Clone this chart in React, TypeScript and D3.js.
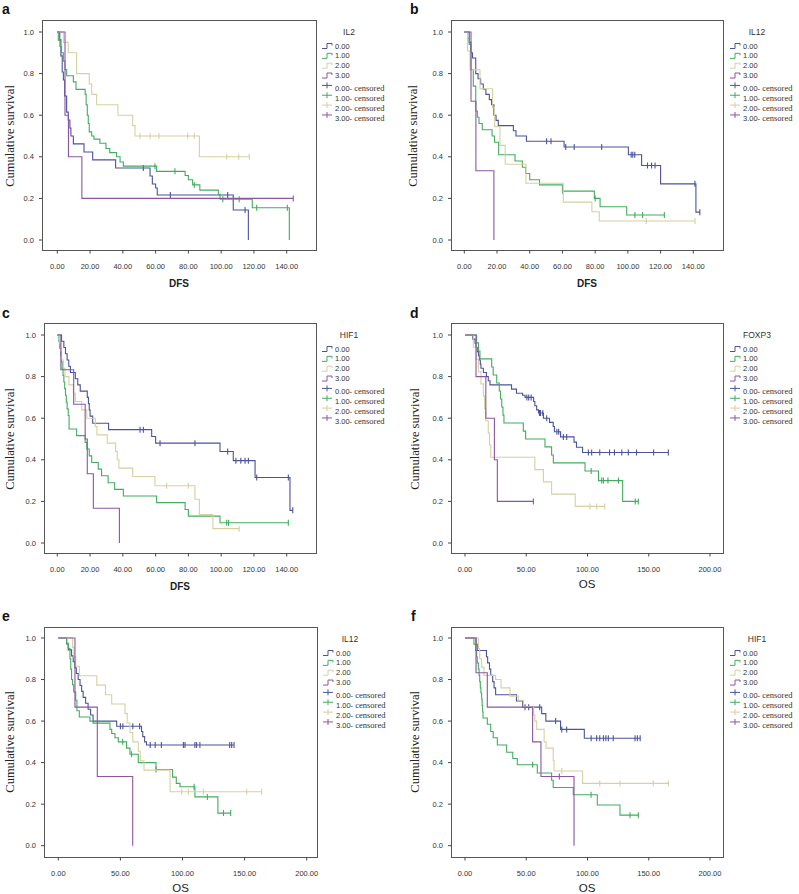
import React from 'react';
import * as d3 from 'd3';

type Step = [number, number];

const groupLabels = ['0.00', '1.00', '2.00', '3.00'];
const groupColors = ['#4b539c', '#42ad5e', '#d6d0a2', '#8c56a0'];
const yTicks = [0, 0.2, 0.4, 0.6, 0.8, 1.0];
const dfsTicks = [0, 20, 40, 60, 80, 100, 120, 140];
const osTicks = [0, 50, 100, 150, 200];
const panelLetters = ['a', 'b', 'c', 'd', 'e', 'f'];
const panelVars = ['IL2', 'IL12', 'HIF1', 'FOXP3', 'IL12', 'HIF1'];
const panelOutcomes = ['DFS', 'DFS', 'DFS', 'OS', 'OS', 'OS'];

// ---- Panel a (IL2, DFS)
const a0Steps: Step[] = [[1.5, 0.962], [2.2, 0.885], [3, 0.808], [3.7, 0.769], [4.5, 0.692], [5.7, 0.615], [6.7, 0.577], [7.7, 0.538], [8.3, 0.5], [9.8, 0.462], [16.3, 0.423], [21.6, 0.385], [35.6, 0.346], [56.6, 0.308], [58, 0.269], [60, 0.25], [61, 0.216], [107.4, 0.144], [116.6, 0]];
const a0Cens = [52.5, 69, 104, 114.6];
const a1Steps: Step[] = [[0.6, 0.96], [1.6, 0.93], [2.6, 0.9], [3.7, 0.86], [4.7, 0.82], [5.7, 0.79], [9.8, 0.76], [11.4, 0.724], [17, 0.7], [17.6, 0.65], [18.3, 0.6], [18.9, 0.56], [19.5, 0.52], [21, 0.5], [22.4, 0.485], [26, 0.465], [29.7, 0.44], [32, 0.42], [36.2, 0.4], [38.3, 0.375], [40.3, 0.355], [60.6, 0.33], [78, 0.31], [80, 0.29], [82.6, 0.265], [87, 0.24], [98.3, 0.22], [99.3, 0.196], [119, 0.155], [141.6, 0]];
const a1Cens = [59.6, 71.8, 83.6, 101, 107.4, 111, 121.7, 140.4];
const a2Steps: Step[] = [[3.7, 0.95], [6.7, 0.9], [11.8, 0.8], [19.5, 0.75], [21, 0.7], [24, 0.65], [37, 0.6], [46, 0.55], [47.4, 0.5], [86.7, 0.4]];
const a2Cens = [50.5, 56.6, 62, 79.6, 83.6, 103.4, 110.7, 117.2];
const a3Steps: Step[] = [[4.7, 0.6], [6.8, 0.4], [15, 0.2]];
const a3Cens = [144];

// ---- Panel b (IL12, DFS)
const b0Steps: Step[] = [[3, 0.95], [4, 0.9], [5, 0.875], [7, 0.8], [8.4, 0.775], [10, 0.75], [11.6, 0.725], [13.2, 0.7], [15.3, 0.675], [16.7, 0.65], [18.1, 0.6], [19.4, 0.575], [20.8, 0.55], [30, 0.525], [31.6, 0.5], [38, 0.475], [61, 0.447], [100.3, 0.41], [108.4, 0.358], [120, 0.27], [141.6, 0.134]];
const b0Cens = [50.3, 53, 62, 67.2, 84, 102, 103, 104.2, 112, 114.5, 116.6, 141, 144];
const b1Steps: Step[] = [[2, 0.97], [3, 0.94], [4, 0.82], [5.5, 0.74], [7, 0.62], [8, 0.59], [9, 0.56], [11, 0.53], [17, 0.5], [18.5, 0.47], [21, 0.41], [31, 0.38], [35.5, 0.35], [37.5, 0.32], [40, 0.29], [46, 0.265], [60, 0.235], [79.5, 0.2], [83, 0.16], [99.3, 0.12]];
const b1Cens = [60.1, 80, 104.3, 109, 122.3];
const b2Steps: Step[] = [[2, 0.909], [3.5, 0.818], [9.6, 0.727], [17.3, 0.636], [18.5, 0.545], [21.8, 0.455], [25, 0.364], [37.7, 0.273], [60.5, 0.182], [78, 0.136], [82.5, 0.091]];
const b2Cens = [111.2, 141];
const b3Steps: Step[] = [[4.1, 0.667], [7.1, 0.333], [18.1, 0]];
const b3Cens: number[] = [];

// ---- Panel c (HIF1, DFS)
const c0Steps: Step[] = [[2.6, 0.97], [4, 0.94], [5, 0.91], [6, 0.88], [7, 0.85], [8, 0.82], [11, 0.79], [12.5, 0.76], [14, 0.73], [18.3, 0.7], [19, 0.67], [19.5, 0.64], [20, 0.61], [21.6, 0.576], [31.3, 0.545], [57.6, 0.512], [60, 0.48], [99.3, 0.44], [107.4, 0.396], [120.7, 0.315], [142, 0.157]];
const c0Cens = [50.5, 52.5, 62.7, 84, 104, 109, 112, 114.6, 116.6, 121.7, 141, 143.7];
const c1Steps: Step[] = [[1, 0.968], [1.5, 0.935], [2, 0.903], [2.5, 0.871], [3, 0.839], [3.5, 0.806], [4, 0.774], [4.5, 0.742], [5, 0.71], [5.5, 0.677], [6, 0.645], [6.7, 0.613], [7.2, 0.548], [11.8, 0.516], [17, 0.484], [18, 0.452], [19.5, 0.419], [21, 0.387], [25, 0.355], [27, 0.323], [31, 0.29], [35, 0.258], [40.3, 0.226], [60.6, 0.194], [78, 0.161], [80, 0.129], [99.3, 0.097]];
const c1Cens = [103.4, 104.5, 141];
const c2Steps: Step[] = [[1.5, 0.96], [2, 0.92], [2.6, 0.88], [3.7, 0.84], [4.7, 0.8], [7.1, 0.76], [9.8, 0.72], [11, 0.68], [14.9, 0.64], [18, 0.6], [23.2, 0.56], [24.2, 0.52], [30.5, 0.48], [35.6, 0.44], [36.6, 0.4], [37.6, 0.36], [46, 0.32], [59.6, 0.275], [84, 0.21], [86.7, 0.137], [95, 0.069]];
const c2Cens = [66.7, 80, 111];
const c3Steps: Step[] = [[2.2, 0.833], [10, 0.667], [17, 0.5], [18.3, 0.333], [22, 0.167], [37.9, 0]];
const c3Cens: number[] = [];

// ---- Panel d (FOXP3, OS)
const d0Steps: Step[] = [[6.3, 0.98], [8.2, 0.96], [9, 0.94], [10, 0.92], [11, 0.9], [11.7, 0.88], [12.5, 0.86], [13, 0.84], [15, 0.82], [17.5, 0.8], [19, 0.78], [20.4, 0.76], [38, 0.74], [42, 0.72], [47, 0.71], [49, 0.7], [56, 0.68], [57, 0.66], [58.5, 0.64], [60, 0.625], [64, 0.6], [69, 0.58], [72, 0.56], [73, 0.535], [78, 0.51], [89, 0.485], [91, 0.46], [96, 0.435]];
const d0Cens = [50.5, 52, 54, 60.8, 61.6, 63.5, 66.7, 75, 76.5, 80.3, 83, 100.7, 103.4, 110, 118, 122, 128, 133.3, 140, 154, 166];
const d1Steps: Step[] = [[9.5, 0.962], [11, 0.923], [12.2, 0.885], [21.8, 0.846], [23, 0.808], [25.9, 0.769], [28, 0.731], [29, 0.692], [30, 0.654], [31, 0.615], [31.8, 0.577], [47.6, 0.538], [49.5, 0.5], [65.3, 0.462], [70.7, 0.423], [72.1, 0.385], [98, 0.346], [109, 0.3], [128.7, 0.2]];
const d1Cens = [103, 111.6, 113, 116.7, 125.3, 139, 141.5];
const d2Steps: Step[] = [[6.8, 0.941], [9, 0.882], [11, 0.824], [13, 0.765], [15, 0.706], [16, 0.647], [17, 0.588], [19, 0.529], [20, 0.471], [21, 0.412], [57, 0.353], [64, 0.294], [70.7, 0.235], [90, 0.176]];
const d2Cens = [102, 107.5, 114];
const d3Steps: Step[] = [[9, 0.8], [17, 0.6], [24, 0.4], [26.4, 0.2]];
const d3Cens = [55.8];

// ---- Panel e (IL12, OS)
const e0Steps: Step[] = [[6.7, 0.971], [8, 0.943], [10.7, 0.914], [12, 0.886], [13.4, 0.857], [14.5, 0.829], [16, 0.8], [17.5, 0.771], [18.8, 0.743], [20, 0.714], [22, 0.686], [24, 0.657], [26, 0.629], [28, 0.6], [47, 0.575], [67, 0.55], [68, 0.525], [69.5, 0.5], [71, 0.485]];
const e0Cens = [50, 52, 60, 65.5, 74, 78, 83, 100.7, 102, 110, 111.4, 114, 138, 139.6, 141.5];
const e1Steps: Step[] = [[6.7, 0.975], [8, 0.95], [9.4, 0.9], [10, 0.85], [10.7, 0.8], [11.5, 0.775], [12.4, 0.74], [14, 0.7], [15, 0.65], [16.9, 0.62], [25.5, 0.6], [28, 0.59], [41.6, 0.56], [43, 0.54], [45.6, 0.52], [48.3, 0.5], [55, 0.47], [57.7, 0.44], [64.4, 0.4], [78.7, 0.367], [92, 0.33], [95, 0.3], [98, 0.284], [110, 0.235], [128.5, 0.157]];
const e1Cens = [51.8, 59, 78.7, 109.3, 120, 133, 138.8];
const e2Steps: Step[] = [[11.5, 0.955], [12.6, 0.909], [14, 0.864], [17, 0.818], [31, 0.773], [38, 0.727], [43, 0.682], [53.7, 0.636], [55.5, 0.591], [57.7, 0.545], [60, 0.5], [64.4, 0.455], [66, 0.409], [69, 0.364], [90, 0.26]];
const e2Cens = [99.3, 104.7, 116.8, 151.7, 163.8];
const e3Steps: Step[] = [[13.4, 0.667], [31.4, 0.333], [59.9, 0]];
const e3Cens: number[] = [];

// ---- Panel f (HIF1, OS)
const f0Steps: Step[] = [[9, 0.97], [10, 0.94], [17.5, 0.91], [18.5, 0.88], [20, 0.85], [21, 0.82], [22.6, 0.79], [23.7, 0.76], [25, 0.727], [42, 0.697], [47, 0.667], [62.6, 0.636], [66, 0.6], [78, 0.56], [97.4, 0.517]];
const f0Cens = [49, 52, 61, 74, 79, 83, 103, 107.5, 110, 113, 115, 117, 121, 138.8, 140.7, 143];
const f1Steps: Step[] = [[7.3, 0.97], [8.7, 0.94], [9.5, 0.91], [10, 0.88], [10.9, 0.85], [11.5, 0.82], [12, 0.79], [12.5, 0.76], [13, 0.735], [13.6, 0.705], [14, 0.675], [14.4, 0.645], [14.7, 0.615], [18.2, 0.585], [21, 0.55], [23, 0.52], [26.4, 0.485], [34, 0.45], [39, 0.42], [42.7, 0.39], [59, 0.35], [70.7, 0.315], [72, 0.28], [88.4, 0.245], [108, 0.196], [126.5, 0.147]];
const f1Cens = [55.2, 102.9, 134.7, 141.5];
const f2Steps: Step[] = [[11, 0.95], [12, 0.9], [13.6, 0.86], [15.5, 0.82], [25, 0.8], [29.4, 0.76], [36.7, 0.72], [43.5, 0.7], [47.6, 0.67], [56, 0.63], [57, 0.6], [58.5, 0.56], [64.6, 0.5], [66.2, 0.47], [72, 0.41], [72.7, 0.36], [96, 0.3]];
const f2Cens = [79, 110, 126.5, 153.7, 166];
const f3Steps: Step[] = [[9, 0.833], [18.2, 0.667], [55.2, 0.5], [62, 0.333], [89, 0]];
const f3Cens = [77];

const panelSteps: Step[][][] = [
  [a0Steps, a1Steps, a2Steps, a3Steps],
  [b0Steps, b1Steps, b2Steps, b3Steps],
  [c0Steps, c1Steps, c2Steps, c3Steps],
  [d0Steps, d1Steps, d2Steps, d3Steps],
  [e0Steps, e1Steps, e2Steps, e3Steps],
  [f0Steps, f1Steps, f2Steps, f3Steps],
];
const panelCens: number[][][] = [
  [a0Cens, a1Cens, a2Cens, a3Cens],
  [b0Cens, b1Cens, b2Cens, b3Cens],
  [c0Cens, c1Cens, c2Cens, c3Cens],
  [d0Cens, d1Cens, d2Cens, d3Cens],
  [e0Cens, e1Cens, e2Cens, e3Cens],
  [f0Cens, f1Cens, f2Cens, f3Cens],
];

// layout (pixel geometry)
const layouts = [
  { fl: 42, fr: 316, ft: 20, fb: 250, x0: 57.3, x1: 286.7, y1: 32, y0: 240, letterX: 2, letterY: 14, ytX: 10 },
  { fl: 451, fr: 723, ft: 20, fb: 250, x0: 464.3, x1: 693.3, y1: 32, y0: 240, letterX: 410, letterY: 14, ytX: 412.5 },
  { fl: 44, fr: 316, ft: 323, fb: 553, x0: 57.3, x1: 286.7, y1: 335, y0: 543, letterX: 2, letterY: 318, ytX: 10 },
  { fl: 451, fr: 723, ft: 323, fb: 553, x0: 465, x1: 710, y1: 335, y0: 543, letterX: 410, letterY: 318, ytX: 415 },
  { fl: 44, fr: 317, ft: 627, fb: 857, x0: 58.3, x1: 306.7, y1: 638, y0: 845.7, letterX: 2, letterY: 621, ytX: 10 },
  { fl: 451, fr: 723, ft: 627, fb: 857, x0: 465, x1: 710, y1: 638, y0: 845.7, letterX: 411, letterY: 621, ytX: 415 },
];

const sans = 'Arial, "Liberation Sans", Helvetica, sans-serif';
const serif = '"Times New Roman", "Liberation Serif", serif';

function survAt(steps: Step[], t: number): number {
  let s = 1;
  for (const [st, sv] of steps) if (st <= t) s = sv;
  return s;
}

function Panel({ i }: { i: number }) {
  const L = layouts[i];
  const isOS = panelOutcomes[i] === 'OS';
  const ticks = isOS ? osTicks : dfsTicks;
  const x = d3.scaleLinear().domain([0, ticks[ticks.length - 1]]).range([L.x0, L.x1]);
  const y = d3.scaleLinear().domain([0, 1]).range([L.y0, L.y1]);
  const line = d3.line<Step>().x((d) => x(d[0])).y((d) => y(d[1])).curve(d3.curveStepAfter);
  const axisColor = '#444';
  const legX = L.fr + 6 + (i % 2 === 1 ? 1 : 0);
  const legTop = L.ft + 26;
  const gap = 9.85;

  return (
    <g>
      <text x={L.letterX} y={L.letterY} fontFamily={sans} fontWeight="bold" fontSize={14} fill="#111">
        {panelLetters[i]}
      </text>
      <rect x={L.fl + 0.5} y={L.ft + 0.5} width={L.fr - L.fl} height={L.fb - L.ft} fill="#fff" stroke="#555" strokeWidth={1} />
      {yTicks.map((v) => (
        <g key={'y' + v}>
          <line x1={L.fl - 3} x2={L.fl} y1={y(v)} y2={y(v)} stroke={axisColor} />
          <text x={L.fl - 8} y={y(v)} dy="0.35em" textAnchor="end" fontFamily={sans} fontSize={7.5} fill="#333">
            {v.toFixed(1)}
          </text>
        </g>
      ))}
      {ticks.map((v) => (
        <g key={'x' + v}>
          <line x1={x(v)} x2={x(v)} y1={L.fb + 0.5} y2={L.fb + 3.5} stroke={axisColor} />
          <text x={x(v)} y={L.fb + 19} textAnchor="middle" fontFamily={sans} fontSize={7.5} fill="#333">
            {v.toFixed(2)}
          </text>
        </g>
      ))}
      <text
        x={(L.fl + L.fr) / 2}
        y={L.fb + (isOS ? 35 : 37)}
        textAnchor="middle"
        fontFamily={sans}
        fontWeight={isOS ? 'normal' : 'bold'}
        fontSize={isOS ? 11.5 : 10}
        fill="#222"
      >
        {panelOutcomes[i]}
      </text>
      <text
        transform={`translate(${L.ytX},${(L.y0 + L.y1) / 2}) rotate(-90)`}
        textAnchor="middle"
        dy="0.35em"
        fontFamily={serif}
        fontSize={12.5}
        fill="#222"
      >
        Cumulative survival
      </text>
      {panelSteps[i].map((steps, g) => {
        const cens = panelCens[i][g];
        const pts: Step[] = [[0, 1], ...steps];
        const last = steps.length ? steps[steps.length - 1] : [0, 1];
        const maxC = cens.length ? Math.max(...cens) : 0;
        if (last[1] > 0 && maxC > last[0]) pts.push([maxC, last[1]]);
        return (
          <g key={'g' + g}>
            <path d={line(pts) || ''} fill="none" stroke={groupColors[g]} strokeWidth={1.1} />
            {cens.map((c, k) => {
              const s = survAt(steps, c);
              return (
                <line key={k} x1={x(c)} x2={x(c)} y1={y(s) - 3} y2={y(s) + 3} stroke={groupColors[g]} strokeWidth={1.1} />
              );
            })}
          </g>
        );
      })}
      <text x={legX + 27} y={L.ft + 12} dy="0.35em" textAnchor="middle" fontFamily={sans} fontSize={8.5} fill="#333">
        {panelVars[i]}
      </text>
      {groupLabels.map((lab, g) => {
        const yy = legTop + g * gap;
        return (
          <g key={'l' + g}>
            <path
              d={`M${legX},${yy + 2.5}H${legX + 5}V${yy - 2.5}H${legX + 10}V${yy - 0.5}`}
              fill="none"
              stroke={groupColors[g]}
              strokeWidth={1}
            />
            <text x={legX + 13} y={yy} dy="0.35em" fontFamily={sans} fontSize={7.5} fill="#333">
              {lab}
            </text>
          </g>
        );
      })}
      {groupLabels.map((lab, g) => {
        const yy = legTop + (g + 4) * gap;
        return (
          <g key={'c' + g}>
            <line x1={legX} x2={legX + 10} y1={yy} y2={yy} stroke={groupColors[g]} strokeWidth={1} />
            <line x1={legX + 5} x2={legX + 5} y1={yy - 3} y2={yy + 3} stroke={groupColors[g]} strokeWidth={1} />
            <text x={legX + 13} y={yy} dy="0.35em" fill="#333">
              <tspan fontFamily={sans} fontSize={7.5}>{lab}-</tspan>
              <tspan fontFamily={serif} fontSize={8.5}> censored</tspan>
            </text>
          </g>
        );
      })}
    </g>
  );
}

export default function App() {
  return (
    <svg
      width={799}
      height={894}
      viewBox="0 0 799 894"
      style={{ position: 'absolute', left: 0, top: 0, background: '#fff' }}
    >
      <rect x={0} y={0} width={799} height={894} fill="#fff" />
      {panelLetters.map((_, i) => (
        <Panel key={i} i={i} />
      ))}
    </svg>
  );
}
